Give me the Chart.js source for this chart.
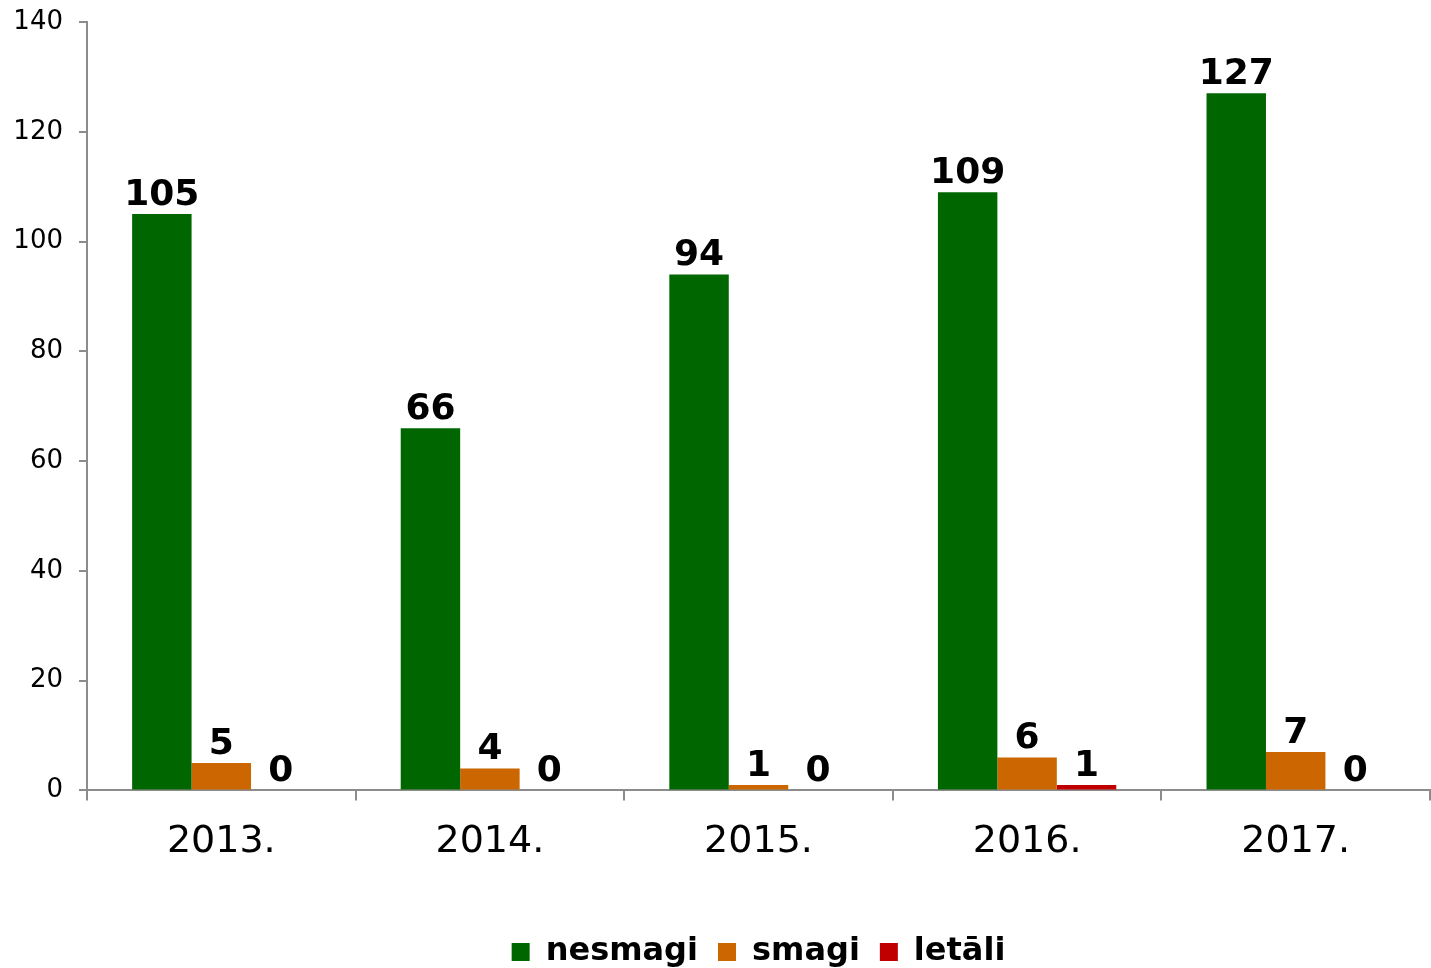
<!DOCTYPE html>
<html>
<head>
<meta charset="utf-8">
<script src="https://cdn.jsdelivr.net/npm/chart.js@4/dist/chart.umd.min.js"></script>
<style>
html,body{margin:0;padding:0;background:#fff;}
#wrap{width:1431px;height:968px;position:relative;}
</style>
</head>
<body>
<div id="wrap"><canvas id="c" width="1431" height="968"></canvas></div>
<script>
const categories = ['2013.', '2014.', '2015.', '2016.', '2017.'];
const nesmagi = [105, 66, 94, 109, 127];
const smagi = [5, 4, 1, 6, 7];
const letali = [0, 0, 0, 1, 0];
const yTicks = [0, 20, 40, 60, 80, 100, 120, 140];

const FONT = '"DejaVu Sans", Verdana, sans-serif';

const valueLabels = {
  id: 'valueLabels',
  afterDatasetsDraw(chart) {
    const ctx = chart.ctx;
    ctx.save();
    ctx.font = 'bold 36px ' + FONT;
    ctx.fillStyle = '#000';
    ctx.textAlign = 'center';
    ctx.textBaseline = 'alphabetic';
    chart.data.datasets.forEach((ds, di) => {
      const meta = chart.getDatasetMeta(di);
      meta.data.forEach((bar, i) => {
        ctx.fillText(String(ds.data[i]), bar.x, bar.y - 9);
      });
    });
    ctx.restore();
  }
};

new Chart(document.getElementById('c'), {
  type: 'bar',
  data: {
    labels: categories,
    datasets: [
      { label: 'nesmagi', data: nesmagi, backgroundColor: '#006600' },
      { label: 'smagi', data: smagi, backgroundColor: '#CC6600' },
      { label: 'letāli', data: letali, backgroundColor: '#C00000' }
    ]
  },
  options: {
    responsive: false,
    animation: false,
    events: [],
    layout: { padding: { left: 10, right: 1, top: 22, bottom: -10 } },
    datasets: { bar: { categoryPercentage: 0.664, barPercentage: 1.0, borderWidth: 0 } },
    scales: {
      x: {
        grid: { drawOnChartArea: false, drawTicks: true, tickLength: 10, color: '#8c8c8c', lineWidth: 2, offset: true },
        border: { color: '#8c8c8c', width: 2 },
        ticks: { color: '#000', font: { family: FONT, size: 38 }, padding: 19 },
        afterFit(scale) { scale.height += 32; }
      },
      y: {
        min: 0, max: 140,
        afterBuildTicks(scale) { scale.ticks = yTicks.map(v => ({ value: v })); },
        afterFit(scale) { scale.width = 77; scale.paddingTop = 0; scale.paddingBottom = 0; },
        grid: { drawOnChartArea: false, drawTicks: true, tickLength: 8, color: '#8c8c8c', lineWidth: 2 },
        border: { color: '#8c8c8c', width: 2 },
        ticks: { color: '#000', font: { family: FONT, size: 26 }, padding: 16 }
      }
    },
    plugins: {
      legend: {
        position: 'bottom',
        fullSize: false,
        labels: {
          color: '#000',
          font: { family: FONT, size: 32, weight: 'bold' },
          boxWidth: 18, boxHeight: 18, padding: 20
        }
      },
      tooltip: { enabled: false }
    }
  },
  plugins: [valueLabels]
});
</script>
</body>
</html>
